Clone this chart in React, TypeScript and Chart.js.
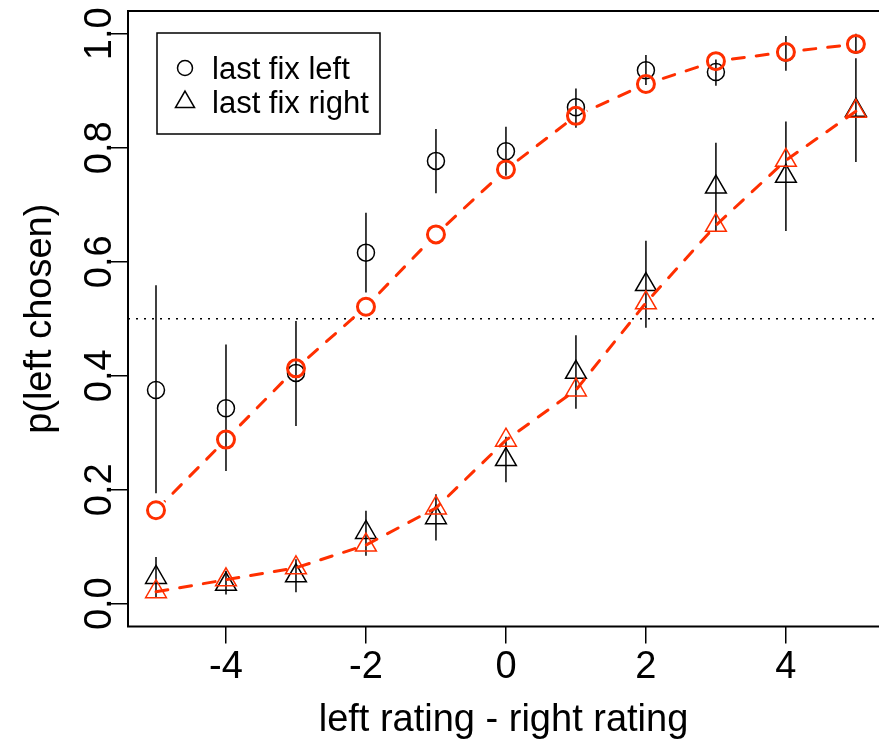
import React, { useEffect, useRef } from "react";
import { Chart, registerables } from "chart.js";

Chart.register(...registerables);

// ---- data ----
const X_VALUES = [-5, -4, -3, -2, -1, 0, 1, 2, 3, 4, 5];
const X_TICKS = [-4, -2, 0, 2, 4];
const Y_TICKS = [0, 0.2, 0.4, 0.6, 0.8, 1.0];
const X_MIN = -5.4;
const X_MAX = 5.33;
const Y_MIN = -0.04;
const Y_MAX = 1.04;
const REF_LINE = 0.5;

// observed: last fixation on left item (circles)
const LEFT_OBS = [0.375, 0.343, 0.405, 0.616, 0.777, 0.794, 0.871, 0.936, 0.933, 0.967, 0.981];
const LEFT_LO = [0.194, 0.233, 0.312, 0.546, 0.72, 0.751, 0.835, 0.91, 0.909, 0.935, 0.965];
const LEFT_HI = [0.559, 0.455, 0.496, 0.686, 0.833, 0.837, 0.904, 0.963, 0.955, 0.996, 1.0];
const LEFT_FIT = [0.164, 0.288, 0.413, 0.521, 0.648, 0.762, 0.856, 0.912, 0.952, 0.968, 0.982];

// observed: last fixation on right item (triangles)
const RIGHT_OBS = [0.046, 0.034, 0.049, 0.125, 0.151, 0.253, 0.406, 0.56, 0.731, 0.75, 0.866];
const RIGHT_LO = [0.01, 0.016, 0.02, 0.084, 0.111, 0.213, 0.342, 0.484, 0.653, 0.654, 0.775];
const RIGHT_HI = [0.082, 0.058, 0.078, 0.163, 0.192, 0.293, 0.471, 0.637, 0.809, 0.846, 0.957];
const RIGHT_FIT = [0.021, 0.042, 0.063, 0.103, 0.168, 0.287, 0.375, 0.528, 0.664, 0.778, 0.864];

const LEGEND_LABELS = ["last fix left", "last fix right"];
const X_TITLE = "left rating - right rating";
const Y_TITLE = "p(left chosen)";

const RED = "#ff2f00";
const BLACK = "#000000";
const FONT = '"Liberation Sans", Arial, Helvetica, sans-serif';

const pts = (ys: number[]) => X_VALUES.map((x, i) => ({ x, y: ys[i] }));

const decorPlugin = {
  id: "decor",
  beforeDatasetsDraw(chart: any) {
    const { ctx, chartArea, scales } = chart;
    const xs = scales.x;
    const ys = scales.y;
    ctx.save();
    // reference line
    ctx.strokeStyle = BLACK;
    ctx.lineWidth = 1.5;
    ctx.setLineDash([2, 6]);
    const yr = ys.getPixelForValue(REF_LINE);
    ctx.beginPath();
    ctx.moveTo(chartArea.left, yr);
    ctx.lineTo(chartArea.right, yr);
    ctx.stroke();
    ctx.setLineDash([]);
    // error bars
    const bars = (lo: number[], hi: number[]) => {
      X_VALUES.forEach((x, i) => {
        const px = xs.getPixelForValue(x);
        ctx.beginPath();
        ctx.moveTo(px, ys.getPixelForValue(lo[i]));
        ctx.lineTo(px, ys.getPixelForValue(hi[i]));
        ctx.stroke();
      });
    };
    ctx.lineWidth = 1.5;
    bars(LEFT_LO, LEFT_HI);
    bars(RIGHT_LO, RIGHT_HI);
    ctx.restore();
  },
  beforeDatasetDraw(chart: any, args: any) {
    const ds = chart.data.datasets[args.index];
    if (!ds.gapRadius) return;
    const { ctx, width, height, scales } = chart;
    ctx.save();
    ctx.beginPath();
    ctx.rect(0, 0, width, height);
    ds.data.forEach((p: any) => {
      const px = scales.x.getPixelForValue(p.x);
      const py = scales.y.getPixelForValue(p.y);
      ctx.moveTo(px + ds.gapRadius, py);
      ctx.arc(px, py, ds.gapRadius, 0, Math.PI * 2);
    });
    ctx.clip("evenodd");
  },
  afterDatasetDraw(chart: any, args: any) {
    const ds = chart.data.datasets[args.index];
    if (!ds.gapRadius) return;
    chart.ctx.restore();
  },
  afterDraw(chart: any) {
    const { ctx, chartArea } = chart;
    ctx.save();
    // frame (right edge lies outside the picture)
    ctx.strokeStyle = BLACK;
    ctx.lineWidth = 2;
    ctx.beginPath();
    ctx.moveTo(chart.width + 2, chartArea.top);
    ctx.lineTo(chartArea.left, chartArea.top);
    ctx.lineTo(chartArea.left, chartArea.bottom);
    ctx.lineTo(chart.width + 2, chartArea.bottom);
    ctx.stroke();

    // legend
    const lx = 157, ly = 33, lw = 223, lh = 101;
    ctx.lineWidth = 1.5;
    ctx.strokeRect(lx, ly, lw, lh);
    // circle symbol
    ctx.beginPath();
    ctx.arc(185, 68, 7.5, 0, Math.PI * 2);
    ctx.stroke();
    // triangle symbol
    const r = 11, cx = 185, cy = 102;
    ctx.beginPath();
    ctx.moveTo(cx, cy - r);
    ctx.lineTo(cx + Math.sin((2 * Math.PI) / 3) * r, cy + r / 2);
    ctx.lineTo(cx - Math.sin((2 * Math.PI) / 3) * r, cy + r / 2);
    ctx.closePath();
    ctx.stroke();
    ctx.fillStyle = BLACK;
    ctx.font = `31px ${FONT}`;
    ctx.textAlign = "left";
    ctx.textBaseline = "alphabetic";
    ctx.fillText(LEGEND_LABELS[0], 212, 79);
    ctx.fillText(LEGEND_LABELS[1], 212, 113);
    ctx.restore();
  },
};

export default function App() {
  const ref = useRef<HTMLCanvasElement | null>(null);
  useEffect(() => {
    if (!ref.current) return;
    const chart = new Chart(ref.current, {
      type: "scatter",
      data: {
        datasets: [
          {
            type: "scatter",
            label: "left fit points",
            data: pts(LEFT_FIT),
            pointStyle: "circle",
            pointRadius: 8.5,
            borderWidth: 3,
            borderColor: RED,
            backgroundColor: "rgba(0,0,0,0)",
            order: 1,
          } as any,
          {
            type: "scatter",
            label: "right fit points",
            data: pts(RIGHT_FIT),
            pointStyle: "triangle",
            pointRadius: 12,
            borderWidth: 1.5,
            borderColor: RED,
            backgroundColor: "rgba(0,0,0,0)",
            order: 1,
          } as any,
          {
            type: "line",
            label: "left fit",
            data: pts(LEFT_FIT),
            borderColor: RED,
            borderWidth: 3,
            borderDash: [12, 12],
            borderCapStyle: "round",
            pointRadius: 0,
            fill: false,
            tension: 0,
            gapRadius: 12,
            order: 2,
          } as any,
          {
            type: "line",
            label: "right fit",
            data: pts(RIGHT_FIT),
            borderColor: RED,
            borderWidth: 3,
            borderDash: [12, 12],
            borderCapStyle: "round",
            pointRadius: 0,
            fill: false,
            tension: 0,
            order: 2,
          } as any,
          {
            type: "scatter",
            label: LEGEND_LABELS[0],
            data: pts(LEFT_OBS),
            pointStyle: "circle",
            pointRadius: 8.5,
            borderWidth: 1.5,
            borderColor: BLACK,
            backgroundColor: "rgba(0,0,0,0)",
            order: 3,
          } as any,
          {
            type: "scatter",
            label: LEGEND_LABELS[1],
            data: pts(RIGHT_OBS),
            pointStyle: "triangle",
            pointRadius: 12,
            borderWidth: 1.5,
            borderColor: BLACK,
            backgroundColor: "rgba(0,0,0,0)",
            order: 3,
          } as any,
        ],
      },
      options: {
        responsive: false,
        animation: false,
        events: [],
        layout: { autoPadding: false, padding: { top: 11, left: 0, right: 0, bottom: 0 } },
        plugins: {
          legend: { display: false },
          tooltip: { enabled: false },
        },
        scales: {
          x: {
            type: "linear",
            min: X_MIN,
            max: X_MAX,
            afterBuildTicks: (s: any) => {
              s.ticks = X_TICKS.map((v) => ({ value: v }));
            },
            afterFit: (s: any) => {
              s.height = 116.5;
              s.paddingLeft = 0;
              s.paddingRight = 0;
              s.paddingTop = 0;
              s.paddingBottom = 0;
            },
            border: { display: false },
            grid: {
              drawOnChartArea: false,
              drawTicks: true,
              tickLength: 17,
              color: BLACK,
              lineWidth: 1.5,
            },
            ticks: {
              autoSkip: false,
              maxRotation: 0,
              padding: 1,
              color: BLACK,
              font: { family: FONT, size: 38 },
              callback: (v: any) => String(v),
            },
            title: {
              display: true,
              text: X_TITLE,
              color: BLACK,
              font: { family: FONT, size: 38 },
              padding: { top: 0, bottom: 0 },
            },
          },
          y: {
            type: "linear",
            min: Y_MIN,
            max: Y_MAX,
            afterBuildTicks: (s: any) => {
              s.ticks = Y_TICKS.map((v) => ({ value: v }));
            },
            afterFit: (s: any) => {
              s.width = 128;
              s.paddingLeft = 0;
              s.paddingRight = 0;
              s.paddingTop = 0;
              s.paddingBottom = 0;
            },
            border: { display: false },
            grid: {
              drawOnChartArea: false,
              drawTicks: true,
              tickLength: 17,
              color: BLACK,
              lineWidth: 1.5,
            },
            ticks: {
              autoSkip: false,
              minRotation: 90,
              maxRotation: 90,
              crossAlign: "center",
              padding: -16,
              color: BLACK,
              font: { family: FONT, size: 38 },
              callback: (v: any) => Number(v).toFixed(1),
            },
            title: {
              display: true,
              text: Y_TITLE,
              color: BLACK,
              font: { family: FONT, size: 38 },
              padding: { top: 18, bottom: 0 },
            },
          },
        },
      },
      plugins: [decorPlugin],
    });
    return () => chart.destroy();
  }, []);

  return (
    <div style={{ position: "absolute", left: 0, top: 0, width: 879, height: 743, background: "#fff" }}>
      <canvas ref={ref} width={879} height={743} style={{ display: "block" }} />
    </div>
  );
}
